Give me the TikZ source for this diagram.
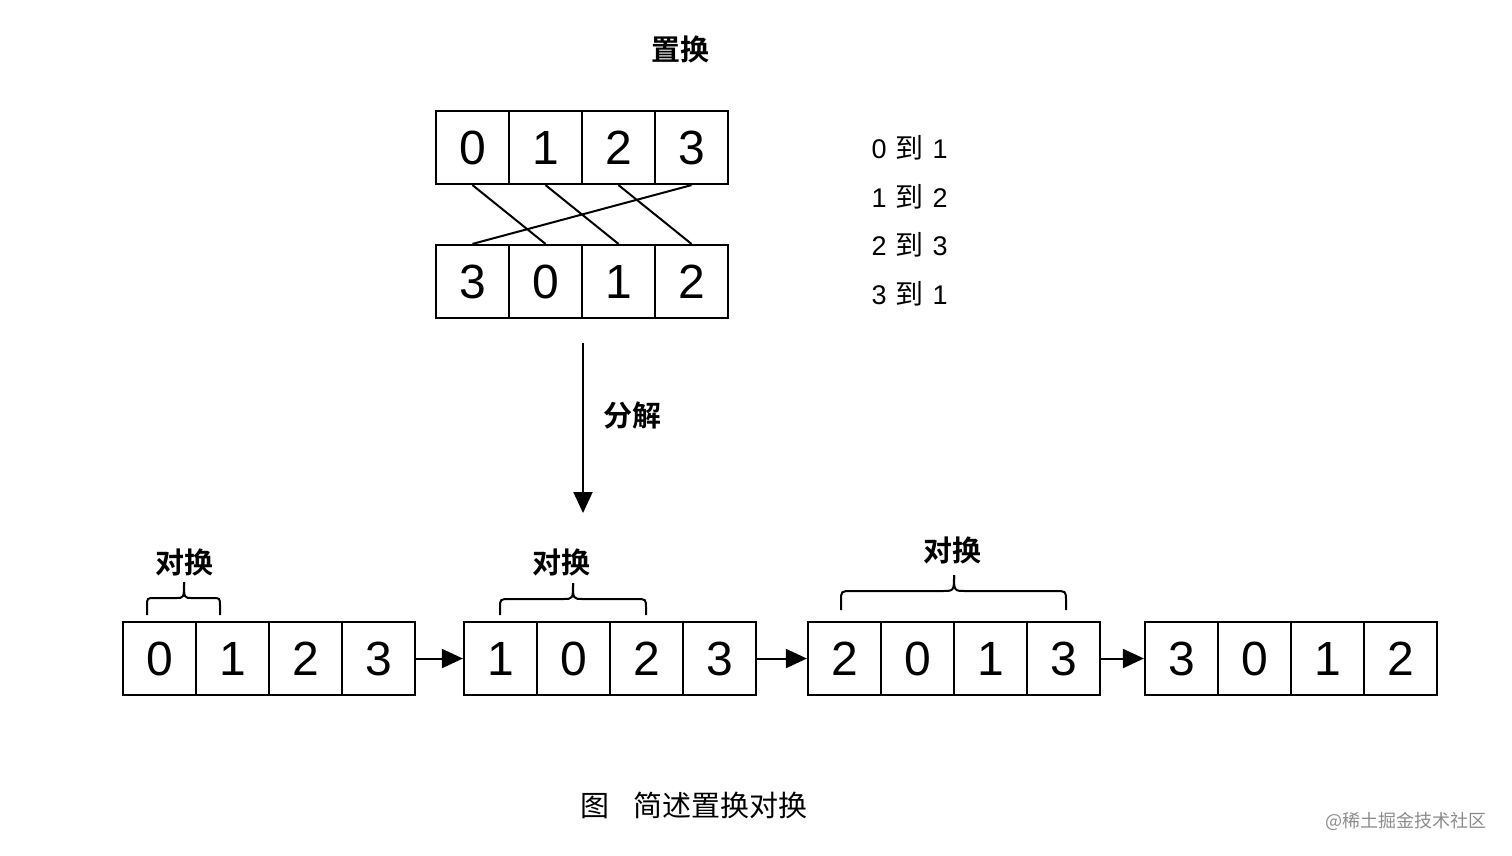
\documentclass[tikz,border=0pt]{standalone}
\usepackage{fontspec}
\setmainfont{Liberation Sans}
\newfontfamily\cjk{Noto Sans CJK SC}
\newfontfamily\cjkb{Noto Sans CJK SC Bold}
\usetikzlibrary{arrows.meta}
\tikzset{
  cell/.style={draw, line width=2.2pt, minimum width=73pt, minimum height=73pt, inner sep=0pt,
    font=\fontsize{48}{52}\selectfont},
  link/.style={line width=2pt},
  flow/.style={line width=2pt, -{Triangle[length=21pt,width=19pt]}},
  lbl/.style={font=\cjkb\fontsize{29}{32}\selectfont},
  maplbl/.style={font=\fontsize{27}{30}\selectfont, anchor=west},
  braceln/.style={line width=2pt},
}
\newcommand{\dao}{\hspace{9pt}{\cjk\fontsize{28}{30}\selectfont 到}\hspace{9pt}}
\begin{document}
\begin{tikzpicture}[x=1pt,y=-1pt]
\useasboundingbox (0,0) rectangle (1512,855);
% top arrays
\foreach \v [count=\i from 0] in {0,1,2,3} {
  \node[cell] (t\i) at ({472.5+73*\i},147.5) {\v};
}
\foreach \v [count=\i from 0] in {3,0,1,2} {
  \node[cell] (b\i) at ({472.5+73*\i},281.5) {\v};
}
\draw[link] (t0.south) -- (b1.north);
\draw[link] (t1.south) -- (b2.north);
\draw[link] (t2.south) -- (b3.north);
\draw[link] (t3.south) -- (b0.north);
\node[lbl] (title) at (680,50) {置换};
\node[maplbl] (m0) at (868,148) {0\dao 1};
\node[maplbl] (m1) at (868,197) {1\dao 2};
\node[maplbl] (m2) at (868,245) {2\dao 3};
\node[maplbl] (m3) at (868,294) {3\dao 1};
% decomposition arrow
\coordinate (ds) at (583,343);
\coordinate (de) at (583,513);
\draw[flow] (ds) -- (de);
\node[lbl] (dl) at (632,416) {分解};
% bottom arrays
\foreach \v [count=\i from 0] in {0,1,2,3} {
  \node[cell] (p\i) at ({159.5+73*\i},658.5) {\v};
}
\foreach \v [count=\i from 0] in {1,0,2,3} {
  \node[cell] (q\i) at ({500.5+73*\i},658.5) {\v};
}
\foreach \v [count=\i from 0] in {2,0,1,3} {
  \node[cell] (r\i) at ({844.5+73*\i},658.5) {\v};
}
\foreach \v [count=\i from 0] in {3,0,1,2} {
  \node[cell] (s\i) at ({1181.5+73*\i},658.5) {\v};
}
\draw[flow] (p3.east) -- (q0.west);
\draw[flow] (q3.east) -- (r0.west);
\draw[flow] (r3.east) -- (s0.west);
% braces
\draw[braceln] (147,615) -- (147,606) .. controls (147,598) .. (155,598) -- (176,598)
  .. controls (184,598) .. (184,582);
\draw[braceln] (220,615) -- (220,606) .. controls (220,598) .. (212,598) -- (192,598)
  .. controls (184,598) .. (184,582);
\node[lbl] (k1) at (184,562) {对换};
\draw[braceln] (500,615) -- (500,608) .. controls (500,599) .. (510,599) -- (563,599)
  .. controls (573,599) .. (573,583);
\draw[braceln] (646,615) -- (646,608) .. controls (646,599) .. (636,599) -- (583,599)
  .. controls (573,599) .. (573,583);
\node[lbl] (k2) at (561,562) {对换};
\draw[braceln] (841,610) -- (841,601) .. controls (841,591) .. (852,591) -- (942,591)
  .. controls (954,591) .. (954,575);
\draw[braceln] (1066,610) -- (1066,601) .. controls (1066,591) .. (1055,591) -- (966,591)
  .. controls (954,591) .. (954,575);
\node[lbl] (k3) at (952,550) {对换};
% caption
\node[font=\cjk\fontsize{29}{32}\selectfont, anchor=west] (cap) at (577,805) {图\hspace{24pt}简述置换对换};
\node[font=\cjk\fontsize{18}{20}\selectfont, text=black!45, anchor=east] (wm) at (1490,821) {@稀土掘金技术社区};
\end{tikzpicture}
\end{document}
